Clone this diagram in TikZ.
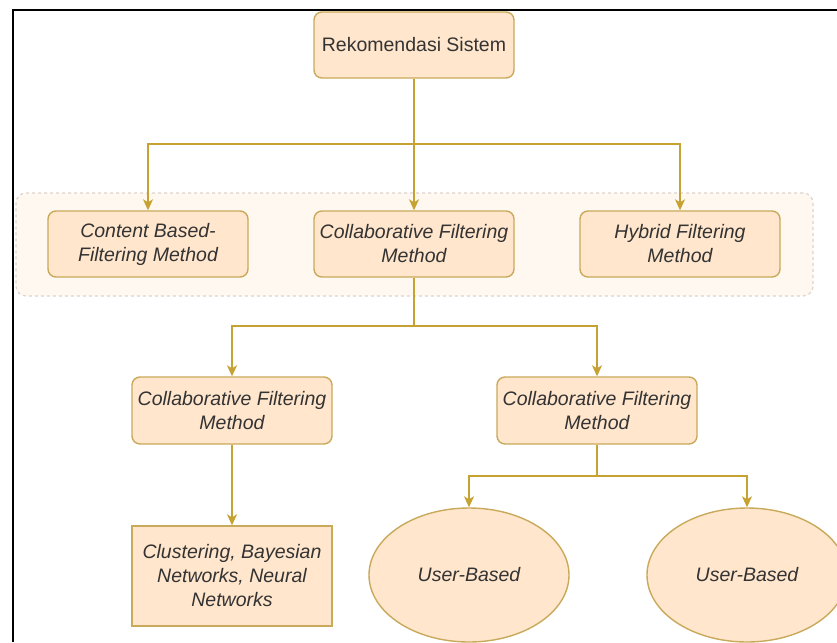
\documentclass[tikz,border=0pt]{standalone}
\usepackage{fontspec}
\setmainfont{Liberation Sans}
\usetikzlibrary{arrows.meta,shapes.geometric}

\definecolor{boxfill}{HTML}{FFE6CC}
\definecolor{boxline}{HTML}{C9A95A}
\definecolor{wire}{HTML}{C6A232}
\definecolor{groupfill}{HTML}{FFF8F1}
\definecolor{groupline}{HTML}{DDD4CB}
\definecolor{ink}{HTML}{333333}

\begin{document}
\begin{tikzpicture}[x=1pt,y=-1pt,
  label font/.style={text=ink, font=\fontsize{19.5}{24}\selectfont\itshape},
  box/.style={label font, draw=boxline, fill=boxfill, line width=1.4pt,
    rounded corners=8pt, minimum width=200pt, minimum height=66pt,
    inner sep=0pt, align=center},
  plainbox/.style={box, rounded corners=0pt, minimum height=100pt},
  oval/.style={label font, ellipse, draw=boxline, fill=boxfill, line width=1.4pt,
    minimum width=200pt, minimum height=134pt, inner sep=0pt},
  groupbox/.style={draw=groupline, fill=groupfill, dashed, line width=1.2pt,
    rounded corners=10pt, minimum width=797pt, minimum height=103pt, inner sep=0pt},
  conn/.style={draw=wire, line width=1.5pt,
    -{Stealth[length=11pt,width=10pt,inset=3pt]}}]

  \useasboundingbox (0,0) rectangle (837,642);
  \fill[white] (0,0) rectangle (837,642);

  % frame
  \draw[line width=2.5pt] (13,642) -- (13,10) -- (837,10);

  % group of the three methods
  \node[groupbox] (grp) at (414.5,244.5) {};

  % root
  \node[box, font=\fontsize{19.5}{24}\selectfont] (root) at (414,45) {Rekomendasi Sistem};

  % first level
  \node[box] (cbf) at (148,244) {Content Based-\\Filtering Method};
  \node[box] (cfm) at (414,244) {Collaborative Filtering\\Method};
  \node[box] (hyb) at (680,244) {Hybrid Filtering\\Method};

  % second level
  \node[box, minimum height=67pt] (cfl) at (232,410.5) {Collaborative Filtering\\Method};
  \node[box, minimum height=67pt] (cfr) at (597,410.5) {Collaborative Filtering\\Method};

  % leaves
  \node[plainbox] (clu) at (232,576) {Clustering, Bayesian\\Networks, Neural\\Networks};
  \node[oval] (ub1) at (469,575) {User-Based};
  \node[oval] (ub2) at (747,575) {User-Based};

  % junctions
  \coordinate (j1) at (414,144);
  \coordinate (j2) at (414,326);
  \coordinate (j3) at (597,476);

  % connectors
  \draw[conn] (root.south) -- (cfm.north);
  \draw[conn] (root.south) -- (j1) -| (cbf.north);
  \draw[conn] (root.south) -- (j1) -| (hyb.north);

  \draw[conn] (cfm.south) -- (j2) -| (cfl.north);
  \draw[conn] (cfm.south) -- (j2) -| (cfr.north);

  \draw[conn] (cfl.south) -- (clu.north);

  \draw[conn] (cfr.south) -- (j3) -| (ub1.north);
  \draw[conn] (cfr.south) -- (j3) -| (ub2.north);
\end{tikzpicture}
\end{document}
